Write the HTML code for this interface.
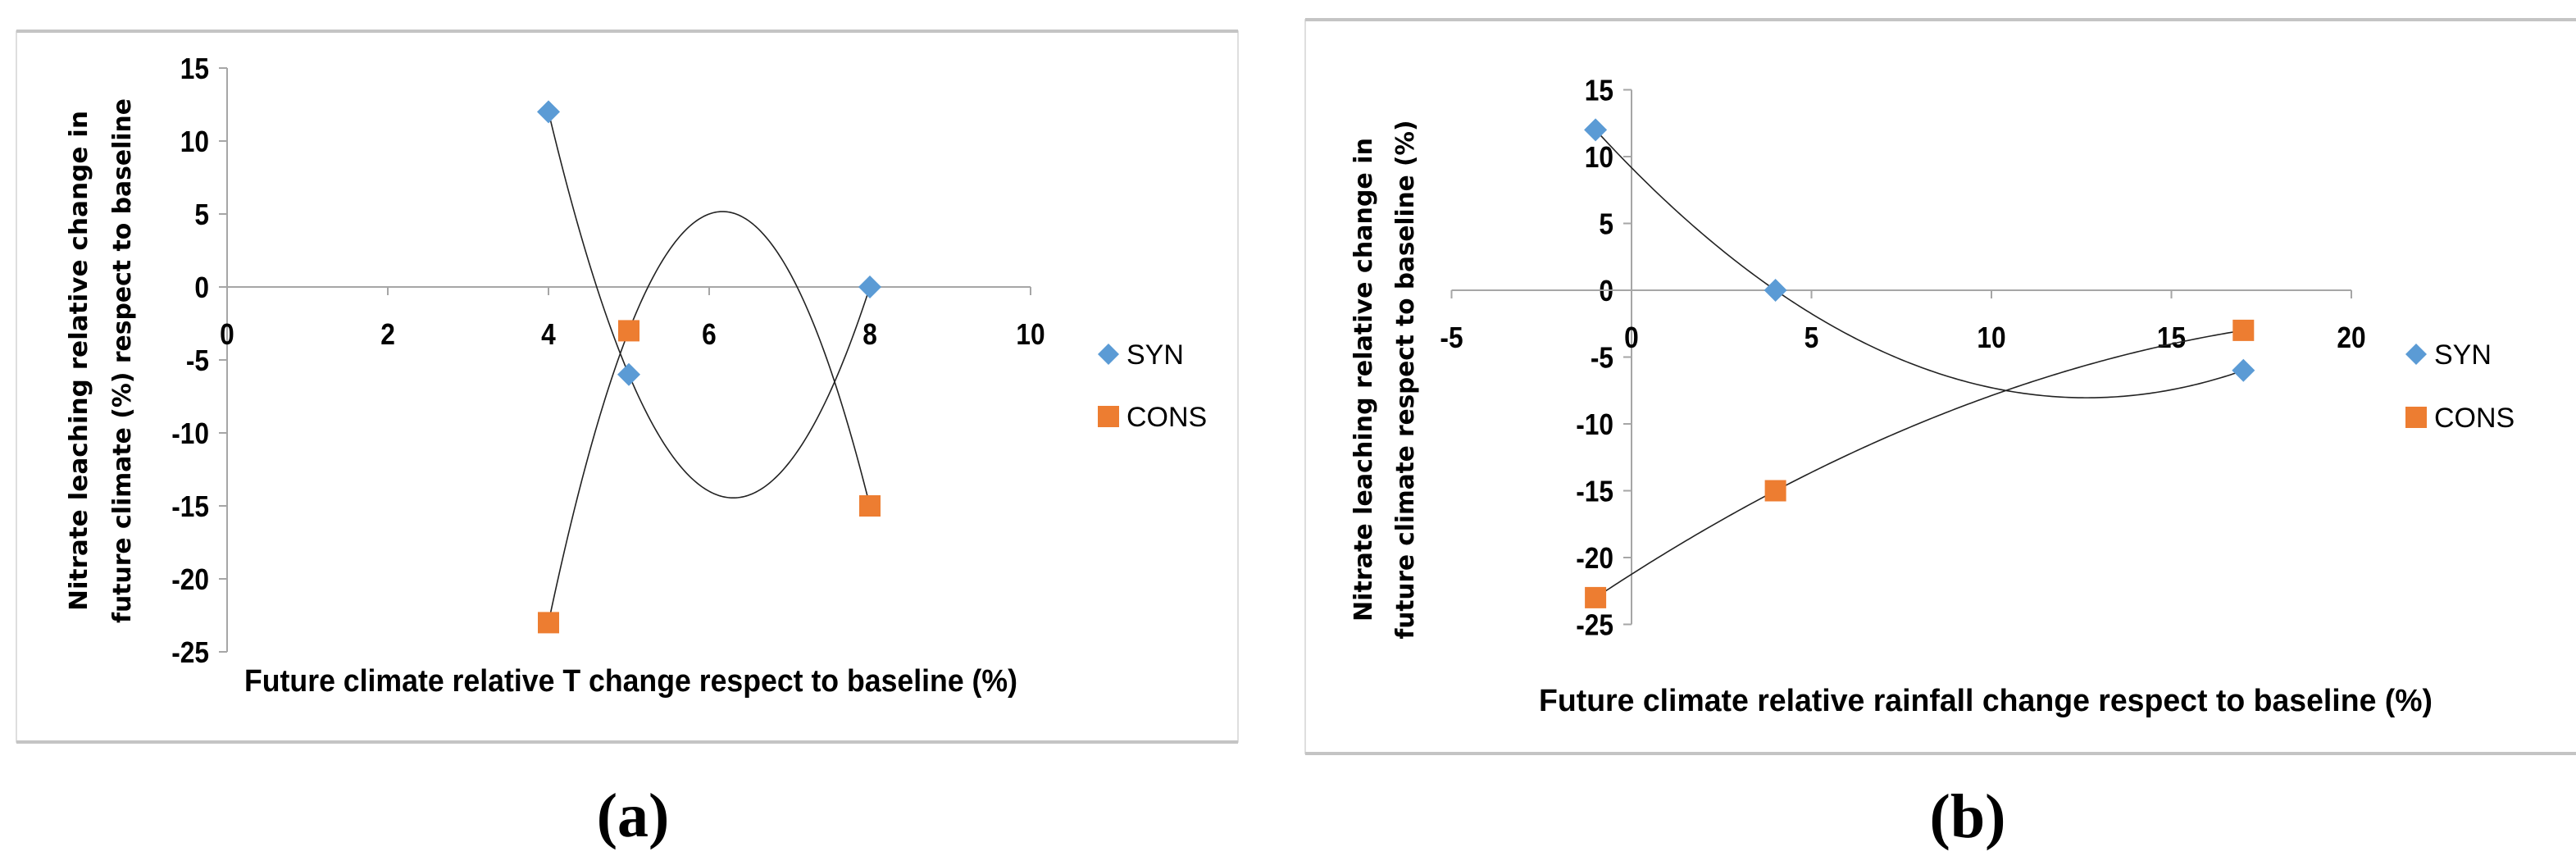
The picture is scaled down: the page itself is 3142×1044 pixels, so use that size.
<!DOCTYPE html>
<html><head><meta charset="utf-8"><style>
html,body{margin:0;padding:0;background:#fff;}
svg{display:block;}
.tick{font-family:"Liberation Sans Narrow","Liberation Sans",sans-serif;font-weight:bold;font-size:36px;fill:#000;}
.ytitle{font-family:"DejaVu Sans","Liberation Sans",sans-serif;font-weight:bold;font-size:30px;fill:#000;}
.xtitle{font-family:"Liberation Sans Narrow","Liberation Sans",sans-serif;font-weight:bold;font-size:38px;fill:#000;}
.leg{font-family:"Liberation Sans Narrow","Liberation Sans",sans-serif;font-size:34px;fill:#000;}
.cap{font-family:"Liberation Serif",serif;font-size:76px;font-weight:bold;fill:#000;}
</style></head><body>
<svg id="fig" width="3142" height="1044" viewBox="0 0 3142 1044" xmlns="http://www.w3.org/2000/svg">
<rect x="0" y="0" width="3142" height="1044" fill="#fff"/>
<g id="pa"></g>
<g id="pb"></g>
</svg>
<script>
// Panel (a) data
const aSynX = [4, 5, 8];
const aSynY = [12, -6, 0];
const aConsX = [4, 5, 8];
const aConsY = [-23, -3, -15];
const aXTicks = [0, 2, 4, 6, 8, 10];
const aYTicks = [15, 10, 5, 0, -5, -10, -15, -20, -25];
// Panel (b) data
const bSynX = [-1, 4, 17];
const bSynY = [12, 0, -6];
const bConsX = [-1, 4, 17];
const bConsY = [-23, -15, -3];
const bXTicks = [-5, 0, 5, 10, 15, 20];
const bYTicks = [15, 10, 5, 0, -5, -10, -15, -20, -25];
const seriesNames = ["SYN", "CONS"];

const NS = "http://www.w3.org/2000/svg";
function mk(parent, tag, attrs, text){
  const e = document.createElementNS(NS, tag);
  for (const k in attrs) e.setAttribute(k, attrs[k]);
  if (text !== undefined) e.textContent = text;
  parent.appendChild(e);
  return e;
}
function quadFit(xs, ys){
  return function(x){
    let s = 0;
    for (let i=0;i<3;i++){
      let t = ys[i];
      for (let j=0;j<3;j++){ if (j!==i) t *= (x - xs[j])/(xs[i]-xs[j]); }
      s += t;
    }
    return s;
  };
}
function drawPanel(g, cfg){
  const sx = v => cfg.x0 + (v - cfg.xmin) * cfg.xs;
  const sy = v => cfg.y0 - (v - cfg.ymax) * cfg.ys;
  let e;
  e = mk(g,'rect',{x:cfg.box[0],y:cfg.box[1],width:cfg.box[2]-cfg.box[0],height:cfg.box[3]-cfg.box[1],fill:'none',stroke:'#d4d4d4','stroke-width':1.5});
   
  e = mk(g,'line',{x1:cfg.box[0],y1:cfg.box[1],x2:cfg.box[2],y2:cfg.box[1],stroke:'#c4c4c4','stroke-width':4});
   
  e = mk(g,'line',{x1:cfg.box[0],y1:cfg.box[3],x2:cfg.box[2],y2:cfg.box[3],stroke:'#c4c4c4','stroke-width':4});
   
  const yAxisX = sx(0), xAxisY = sy(0);
  const ymin = cfg.yTicks[cfg.yTicks.length-1], ymax = cfg.yTicks[0];
  const xmin = cfg.xTicks[0], xmax = cfg.xTicks[cfg.xTicks.length-1];
  e = mk(g,'line',{x1:yAxisX,y1:sy(ymax),x2:yAxisX,y2:sy(ymin),stroke:'#a6a6a6','stroke-width':2});
   
  cfg.yTicks.forEach(v=>{
    const t = mk(g,'line',{x1:yAxisX-10,y1:sy(v),x2:yAxisX,y2:sy(v),stroke:'#a6a6a6','stroke-width':2});
     
    const l = mk(g,'text',{x:yAxisX-22,y:sy(v)+13,'text-anchor':'end',class:'tick',transform:`translate(${(yAxisX-22)*0.12},0) scale(0.88,1)`},String(v));
     
  });
  e = mk(g,'line',{x1:sx(xmin),y1:xAxisY,x2:sx(xmax),y2:xAxisY,stroke:'#a6a6a6','stroke-width':2});
   
  cfg.xTicks.forEach(v=>{
    const t = mk(g,'line',{x1:sx(v),y1:xAxisY,x2:sx(v),y2:xAxisY+10,stroke:'#a6a6a6','stroke-width':2});
     
    const l = mk(g,'text',{x:sx(v),y:xAxisY+cfg.xLabOff,'text-anchor':'middle',class:'tick',transform:`translate(${sx(v)*0.12},0) scale(0.88,1)`},String(v));
     
  });
  const series = [[cfg.synX,cfg.synY],[cfg.consX,cfg.consY]];
  series.forEach((s,idx)=>{
    const f = quadFit(s[0], s[1]);
    const lo = Math.min(...s[0]), hi = Math.max(...s[0]);
    let d = '';
    for (let i=0;i<=200;i++){
      const x = lo + (hi-lo)*i/200;
      d += (i?'L':'M') + sx(x).toFixed(2) + ',' + sy(f(x)).toFixed(2);
    }
    const p = mk(g,'path',{d:d,fill:'none',stroke:'#222','stroke-width':1.6});
    
    
  });
  cfg.synX.forEach((x,i)=>{
    const cx = sx(x), cy = sy(cfg.synY[i]), r = 14;
    const m = mk(g,'polygon',{points:`${cx},${cy-r} ${cx+r},${cy} ${cx},${cy+r} ${cx-r},${cy}`,fill:'#5b9bd5'});
    
    
  });
  cfg.consX.forEach((x,i)=>{
    const cx = sx(x), cy = sy(cfg.consY[i]), h = 13;
    const m = mk(g,'rect',{x:cx-h,y:cy-h,width:2*h,height:2*h,fill:'#ed7d31'});
    
    
  });
  const lx = cfg.leg[0], ly1 = cfg.leg[1], ly2 = cfg.leg[2];
  e = mk(g,'polygon',{points:`${lx},${ly1-13} ${lx+13},${ly1} ${lx},${ly1+13} ${lx-13},${ly1}`,fill:'#5b9bd5'});
   
  e = mk(g,'text',{x:lx+22,y:ly1+12,class:'leg'},seriesNames[0]);
   
  e = mk(g,'rect',{x:lx-13,y:ly2-13,width:26,height:26,fill:'#ed7d31'});
   
  e = mk(g,'text',{x:lx+22,y:ly2+12,class:'leg'},seriesNames[1]);
   
  cfg.yTitle.forEach((t,i)=>{
    const tx = cfg.yTitleX[i], ty = cfg.yTitleCY;
    const el = mk(g,'text',{x:0,y:0,class:'ytitle','text-anchor':'middle',transform:`translate(${tx+11},${ty}) rotate(-90)`,textLength:cfg.yTitleLen[i],lengthAdjust:'spacingAndGlyphs'},t);
    
    
  });
  e = mk(g,'text',{x:cfg.xTitle[1],y:cfg.xTitle[3],class:'xtitle',textLength:cfg.xTitle[2]-cfg.xTitle[1],lengthAdjust:'spacingAndGlyphs'},cfg.xTitle[0]);
   
  e = mk(g,'text',{x:cfg.cap[1],y:cfg.cap[2],class:'cap','text-anchor':'middle'},cfg.cap[0]);
   
}

drawPanel(document.getElementById('pa'),{
  box:[20,38,1510,905],
  x0:277, xmin:0, xs:98.0, y0:83, ymax:15, ys:17.8,
  xTicks:aXTicks, yTicks:aYTicks, xLabOff:70,
  synX:aSynX, synY:aSynY, consX:aConsX, consY:aConsY,
  leg:[1352,432,508],
  yTitle:["Nitrate leaching relative change in","future climate (%) respect to baseline"],
  yTitleX:[95,148], yTitleCY:440, yTitleLen:[610,640],
  xTitle:["Future climate relative T change respect to baseline (%)",298,1241,843],
  cap:["(a)",772,1020]
});
drawPanel(document.getElementById('pb'),{
  box:[1592,24,3160,919],
  x0:1990, xmin:0, xs:43.9, y0:109.5, ymax:15, ys:16.3,
  xTicks:bXTicks, yTicks:bYTicks, xLabOff:70,
  synX:bSynX, synY:bSynY, consX:bConsX, consY:bConsY,
  leg:[2947,432,509],
  yTitle:["Nitrate leaching relative change in","future climate respect to baseline (%)"],
  yTitleX:[1662,1713], yTitleCY:463, yTitleLen:[590,633],
  xTitle:["Future climate relative rainfall change respect to baseline (%)",1877,2967,867],
  cap:["(b)",2400,1021]
});
</script>
</body></html>
